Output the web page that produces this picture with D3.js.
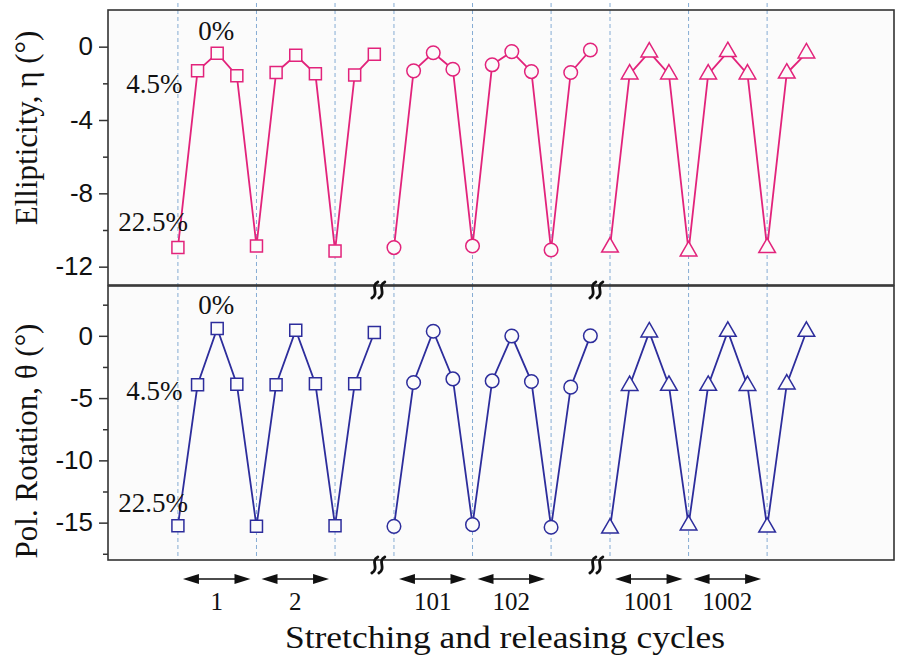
<!DOCTYPE html>
<html>
<head>
<meta charset="utf-8">
<script src="https://cdn.jsdelivr.net/npm/d3@7"></script>
<style>
  body { margin: 0; background: #fff; }
</style>
</head>
<body>
<div id="container"></div>
<script>
/* CONSTANTS AND GLOBALS */
const width = 897, height = 659;
const serif = "'Liberation Serif', 'Times New Roman', serif";
const sans = "'Liberation Sans', Arial, sans-serif";

/* DATA */
// three measured blocks, 11 points each: 22.5%, 4.5%, 0%, 4.5%, 22.5%, ...
const blocks = ["1-2", "101-102", "1001-1002"];
const blockShapes = [d3.symbolSquare, d3.symbolCircle, d3.symbolTriangle];
const strainSteps = ["22.5%", "4.5%", "0%", "4.5%", "22.5%", "4.5%", "0%", "4.5%", "22.5%", "4.5%", "0%"];

const ellipticity = [
  [-10.96, -1.32, -0.36, -1.58, -10.87, -1.41, -0.47, -1.48, -11.14, -1.54, -0.41],
  [-10.96, -1.32, -0.33, -1.23, -10.87, -0.99, -0.27, -1.36, -11.09, -1.41, -0.18],
  [-10.94, -1.50, -0.30, -1.50, -11.15, -1.50, -0.28, -1.50, -10.97, -1.45, -0.35]
];
const rotation = [
  [-15.24, -3.93, 0.59, -3.88, -15.30, -3.93, 0.45, -3.85, -15.24, -3.85, 0.27],
  [-15.30, -3.75, 0.37, -3.46, -15.16, -3.62, -0.02, -3.67, -15.37, -4.12, 0.00],
  [-15.45, -4.00, 0.30, -3.99, -15.20, -3.99, 0.35, -4.00, -15.37, -3.88, 0.35]
];

const cycleLabels = ["1", "2", "101", "102", "1001", "1002"];
const cycleStart = [0, 4, 11, 15, 22, 26];   // point index where each cycle begins
const cycleLength = 4;
const dashedAt = [0, 4, 8, 11, 15, 19, 22, 26, 30];
const breakAfter = [10, 21];

const etaTicks = [0, -4, -8, -12], etaMinor = [-2, -6, -10];
const thetaTicks = [0, -5, -10, -15], thetaMinor = [2.5, -2.5, -7.5, -12.5, -17.5];

/* SCALES */
const xScale = d3.scaleLinear().domain([-3.56, 36.46]).range([108, 894]);

const panels = [
  {
    values: ellipticity, color: "#e2237b",
    yScale: d3.scaleLinear().domain([-13, 2]).range([285, 10]),
    ticks: etaTicks, minor: etaMinor,
    title: "Ellipticity, η (°)", titleY: 128,
    off: { zero: -13, mid: 22, low: -17 }
  },
  {
    values: rotation, color: "#2d2d9c",
    yScale: d3.scaleLinear().domain([-18, 4]).range([560, 286]),
    ticks: thetaTicks, minor: thetaMinor,
    title: "Pol. Rotation, θ (°)", titleY: 441,
    off: { zero: -14, mid: 15, low: -14 }
  }
];

const svg = d3.select("#container")
  .append("svg")
  .attr("width", width)
  .attr("height", height);

const pos = (b, i) => b * strainSteps.length + i;

panels.forEach(p => {
  const y = p.yScale;
  const [y0, y1] = y.range();

  svg.append("rect")
    .attr("x", xScale.range()[0]).attr("y", y1)
    .attr("width", xScale.range()[1] - xScale.range()[0])
    .attr("height", y0 - y1)
    .attr("fill", "#fbfbfb");

  // dashed guides at the 22.5% points
  svg.append("g").selectAll("line")
    .data(dashedAt)
    .join("line")
    .attr("x1", d => xScale(d)).attr("x2", d => xScale(d))
    .attr("y1", p === panels[0] ? 3 : y1).attr("y2", y0)
    .attr("stroke", "#86acd4")
    .attr("stroke-width", 1)
    .attr("stroke-dasharray", "4,3");

  svg.append("rect")
    .attr("x", xScale.range()[0]).attr("y", y1)
    .attr("width", xScale.range()[1] - xScale.range()[0])
    .attr("height", y0 - y1)
    .attr("fill", "none")
    .attr("stroke", "#333")
    .attr("stroke-width", 1.6);

  // axes
  const axis = svg.append("g")
    .attr("transform", `translate(${xScale.range()[0]},0)`)
    .call(d3.axisLeft(y).tickValues(p.ticks).tickSize(9).tickPadding(6));
  axis.select(".domain").remove();
  axis.selectAll(".tick line").attr("stroke", "#333").attr("stroke-width", 1.5);
  axis.selectAll(".tick text")
    .attr("font-family", sans).attr("font-size", 26).attr("fill", "#111")
    .text(d => d < 0 ? "-" + Math.abs(d) : d);

  const minorAxis = svg.append("g")
    .attr("transform", `translate(${xScale.range()[0]},0)`)
    .call(d3.axisLeft(y).tickValues(p.minor).tickSize(5).tickFormat(""));
  minorAxis.select(".domain").remove();
  minorAxis.selectAll(".tick line").attr("stroke", "#333").attr("stroke-width", 1.5);

  svg.append("text")
    .attr("transform", `translate(37,${p.titleY}) rotate(-90)`)
    .attr("text-anchor", "middle")
    .attr("font-family", serif).attr("font-size", 31).attr("fill", "#111")
    .text(p.title);

  // lines and markers, one block at a time
  const line = d3.line()
    .x(d => xScale(d.k))
    .y(d => y(d.v));

  p.values.forEach((vals, b) => {
    const pts = vals.map((v, i) => ({ k: pos(b, i), v: v }));
    svg.append("path")
      .datum(pts)
      .attr("d", line)
      .attr("fill", "none")
      .attr("stroke", p.color)
      .attr("stroke-width", 1.8);

    const sizes = [144, 145, 120];
    svg.append("g").selectAll("path")
      .data(pts)
      .join("path")
      .attr("transform", d => `translate(${xScale(d.k)},${y(d.v)})`)
      .attr("d", d3.symbol().type(blockShapes[b]).size(sizes[b]))
      .attr("fill", "#fbfbfb")
      .attr("stroke", p.color)
      .attr("stroke-width", 1.5);
  });

  // strain labels next to the first cycle
  const first = p.values[0];
  const lab = svg.append("g")
    .attr("font-family", serif).attr("font-size", 27).attr("fill", "#111");
  lab.append("text")
    .attr("x", xScale(2) - 1).attr("y", y(first[2]) + p.off.zero)
    .attr("text-anchor", "middle").text(strainSteps[2]);
  lab.append("text")
    .attr("x", xScale(1) - 15).attr("y", y(first[1]) + p.off.mid)
    .attr("text-anchor", "end").text(strainSteps[1]);
  lab.append("text")
    .attr("x", xScale(0) + 10).attr("y", y(first[0]) + p.off.low)
    .attr("text-anchor", "end").text(strainSteps[0]);
});

// axis break marks
const breakMark = (cx, cy) => {
  const g = svg.append("g").attr("transform", `translate(${cx},${cy})`);
  g.append("rect").attr("x", -3).attr("y", -3).attr("width", 6).attr("height", 6).attr("fill", "#fff");
  [-3.5, 3.5].forEach(dx => {
    g.append("path")
      .attr("d", `M${dx + 3},-8 C${dx - 5},-4 ${dx + 5},3 ${dx - 3},8`)
      .attr("fill", "none")
      .attr("stroke", "#111")
      .attr("stroke-width", 2.8)
      .attr("stroke-linecap", "round");
  });
};
breakAfter.forEach((b, j) => {
  const cx = xScale(b) + (j === 0 ? 4 : 6);
  breakMark(cx, 290);
  breakMark(cx, 565);
});

// cycle arrows
const arrowY = 579;
cycleStart.forEach((s, i) => {
  const xa = xScale(s) + 5, xb = xScale(s + cycleLength) - 6;
  const g = svg.append("g");
  g.append("line")
    .attr("x1", xa + 8).attr("x2", xb - 8)
    .attr("y1", arrowY).attr("y2", arrowY)
    .attr("stroke", "#111").attr("stroke-width", 1.6);
  g.append("path")
    .attr("d", `M${xa},${arrowY} L${xa + 16},${arrowY - 5} L${xa + 16},${arrowY + 5} Z`)
    .attr("fill", "#111");
  g.append("path")
    .attr("d", `M${xb},${arrowY} L${xb - 16},${arrowY - 5} L${xb - 16},${arrowY + 5} Z`)
    .attr("fill", "#111");
  g.append("text")
    .attr("x", (xa + xb) / 2).attr("y", 610)
    .attr("text-anchor", "middle")
    .attr("font-family", serif).attr("font-size", 25).attr("fill", "#111")
    .text(cycleLabels[i]);
});

svg.append("text")
  .attr("x", 505).attr("y", 648)
  .attr("text-anchor", "middle")
  .attr("font-family", serif).attr("font-size", 32).attr("fill", "#111")
  .attr("textLength", 440).attr("lengthAdjust", "spacingAndGlyphs")
  .text("Stretching and releasing cycles");
</script>
</body>
</html>
